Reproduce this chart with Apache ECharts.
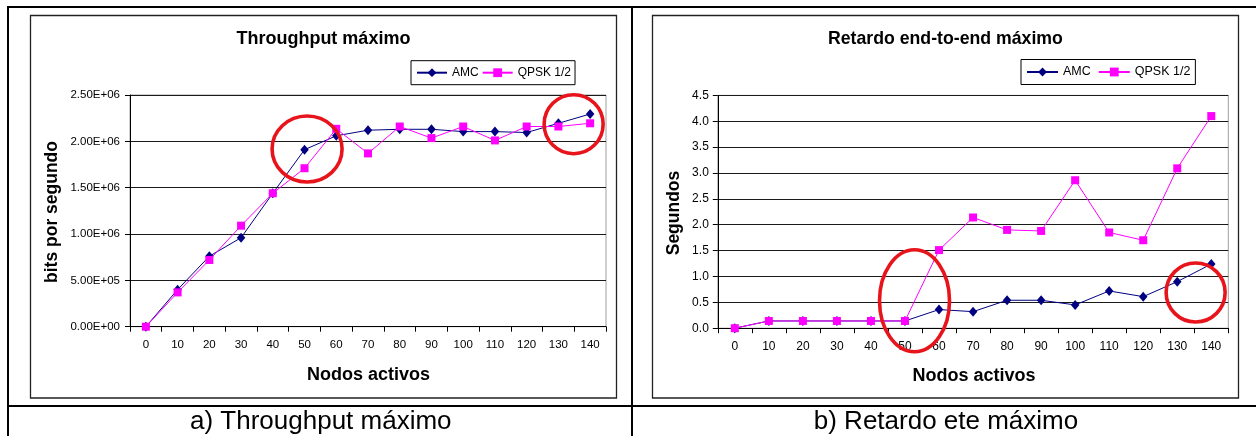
<!DOCTYPE html>
<html>
<head>
<meta charset="utf-8">
<script src="https://cdn.jsdelivr.net/npm/echarts@6/dist/echarts.min.js"></script>
<style>
html,body{margin:0;padding:0;background:#fff;}
#c{width:1256px;height:436px;}
</style>
</head>
<body>
<div id="c"></div>
<script>
// ---- data ----
const categories = ['0','10','20','30','40','50','60','70','80','90','100','110','120','130','140'];
const throughputAMC  = [0, 4.0e5, 7.6e5, 9.6e5, 1.44e6, 1.91e6, 2.06e6, 2.12e6, 2.13e6, 2.13e6, 2.105e6, 2.105e6, 2.095e6, 2.195e6, 2.295e6];
const throughputQPSK = [0, 3.7e5, 7.2e5, 1.09e6, 1.44e6, 1.71e6, 2.135e6, 1.87e6, 2.16e6, 2.035e6, 2.16e6, 2.01e6, 2.16e6, 2.16e6, 2.195e6];
const delayAMC  = [0, 0.14, 0.14, 0.14, 0.14, 0.14, 0.36, 0.32, 0.54, 0.54, 0.45, 0.72, 0.61, 0.90, 1.24];
const delayQPSK = [0, 0.14, 0.14, 0.14, 0.14, 0.14, 1.51, 2.14, 1.90, 1.88, 2.86, 1.85, 1.70, 3.09, 4.10];
const seriesNames = ['AMC', 'QPSK 1/2'];
const titles = ['Throughput máximo', 'Retardo end-to-end máximo'];
const captions = ['a) Throughput máximo', 'b) Retardo ete máximo'];
const yNames = ['bits por segundo', 'Segundos'];
const xName = 'Nodos activos';
// annotation ellipses: [grid, category index (fractional), value]
const annotationCenters = [[0, 5.08, 1.917e6], [0, 13.48, 2.185e6], [1, 5.28, 0.53], [1, 13.54, 0.69]];

// ---- styling ----
const FONT = "'Liberation Sans', Arial, Helvetica, sans-serif";
const NAVY = '#000080';
const MAGENTA = '#ff00ff';
const RED = '#e8141c';
const ellipseRadii = [[35, 33], [29.5, 29.5], [35, 51], [29.5, 29.5]];

function sciLabel(v) {
  const parts = Number(v).toExponential(2).split('e');
  const sign = parts[1][0];
  const digits = parts[1].slice(1).padStart(2, '0');
  return parts[0] + 'E' + sign + digits;
}

const chart = echarts.init(document.getElementById('c'), null, {renderer: 'canvas'});

function xAxisCfg(gridIndex, fs) {
  return {
    type: 'category', gridIndex: gridIndex, data: categories, boundaryGap: true,
    axisLine: {show: true, lineStyle: {color: '#000', width: 1}},
    axisTick: {show: true, length: 5, lineStyle: {color: '#000'}},
    axisLabel: {margin: 12, color: '#000', fontFamily: FONT, fontSize: fs, interval: 0},
    splitLine: {show: false}
  };
}
function yAxisCfg(gridIndex, max, interval, fmt, fs, margin) {
  return {
    type: 'value', gridIndex: gridIndex, min: 0, max: max, interval: interval,
    axisLine: {show: true, lineStyle: {color: '#000', width: 1}},
    axisTick: {show: true, length: 5, lineStyle: {color: '#000'}},
    axisLabel: {margin: margin, color: '#000', fontFamily: FONT, fontSize: fs, formatter: fmt},
    splitLine: {show: true, lineStyle: {color: '#1a1a1a', width: 1}}
  };
}
function lineSeries(name, gi, data, isAMC) {
  const c = isAMC ? NAVY : MAGENTA;
  return {
    type: 'line', name: name, xAxisIndex: gi, yAxisIndex: gi, data: data,
    symbol: isAMC ? 'diamond' : 'rect', symbolSize: isAMC ? [8.5, 10] : 8,
    lineStyle: {color: c, width: 1}, itemStyle: {color: c}, color: c,
    z: isAMC ? 2 : 3, animation: false
  };
}
function legendCfg(left, top, padding, gap, fs, iw) {
  return {
    left: left, top: top, orient: 'horizontal', data: seriesNames,
    borderColor: '#000', borderWidth: 1, backgroundColor: '#fff',
    padding: padding, itemWidth: iw, itemHeight: 11, itemGap: gap,
    textStyle: {fontFamily: FONT, fontSize: fs, color: '#000'},
    selectedMode: false
  };
}

chart.setOption({
  backgroundColor: '#fff',
  animation: false,
  grid: [
    {left: 130, top: 95, width: 476, height: 231.7, show: true, borderColor: '#a0a0a0', borderWidth: 1, backgroundColor: 'transparent'},
    {left: 717.8, top: 95.4, width: 510.5, height: 232.8, show: true, borderColor: '#a0a0a0', borderWidth: 1, backgroundColor: 'transparent'}
  ],
  xAxis: [xAxisCfg(0, 11.5), xAxisCfg(1, 12)],
  yAxis: [
    yAxisCfg(0, 2.5e6, 5e5, sciLabel, 11.5, 10),
    yAxisCfg(1, 4.5, 0.5, function (v) { return Number(v).toFixed(1); }, 12, 9)
  ],
  legend: [
    legendCfg(411, 60.7, [6, 4, 6, 5], 3, 12, 30),
    legendCfg(1021, 59.5, [6, 5, 6, 5], 7, 12.5, 31)
  ],
  series: [
    lineSeries(seriesNames[0], 0, throughputAMC, true),
    lineSeries(seriesNames[1], 0, throughputQPSK, false),
    lineSeries(seriesNames[0], 1, delayAMC, true),
    lineSeries(seriesNames[1], 1, delayQPSK, false)
  ]
});

// ---- decorations: table frame, chart frames, texts, annotation ellipses ----
const g = [];
function line(x1, y1, x2, y2, w, c) {
  g.push({type: 'line', silent: true, z: 50, shape: {x1: x1, y1: y1, x2: x2, y2: y2}, style: {stroke: c || '#000', lineWidth: w}});
}
function text(t, x, y, fs, bold, rot) {
  g.push({type: 'text', silent: true, z: 60, x: x, y: y, rotation: rot || 0,
    style: {text: t, fontFamily: FONT, fontSize: fs, fontWeight: bold ? 'bold' : 'normal', fill: '#000', align: 'center', verticalAlign: 'middle'}});
}
// table
line(7, 7, 1256, 7, 2);
line(8, 6, 8, 436, 2);
line(632, 7, 632, 436, 2);
line(8, 406, 1256, 406, 2);
// chart area frames
g.push({type: 'rect', silent: true, z: 40, shape: {x: 30.5, y: 15.5, width: 586, height: 382.5}, style: {fill: 'none', stroke: '#222', lineWidth: 1.3}});
g.push({type: 'rect', silent: true, z: 40, shape: {x: 652.5, y: 15.5, width: 586, height: 382.5}, style: {fill: 'none', stroke: '#222', lineWidth: 1.3}});
// titles
text(titles[0], 323.4, 39.5, 18, true);
text(titles[1], 945.4, 39.5, 17.7, true);
// axis names
text(yNames[0], 52.5, 212, 17.5, true, Math.PI / 2);
text(yNames[1], 674, 213, 17.5, true, Math.PI / 2);
text(xName, 368.5, 375.5, 18, true);
text(xName, 974, 376.5, 18, true);
// captions
text(captions[0], 320.8, 422, 26, false);
text(captions[1], 946, 422, 26, false);

// ellipses anchored to data coordinates
annotationCenters.forEach(function (a, i) {
  const gi = a[0];
  const finder = {xAxisIndex: gi, yAxisIndex: gi};
  const p0 = chart.convertToPixel(finder, [0, a[2]]);
  const p1 = chart.convertToPixel(finder, [1, a[2]]);
  const step = p1[0] - p0[0];
  const cx = p0[0] + a[1] * step;
  const cy = p0[1];
  g.push({type: 'ellipse', silent: true, z: 70,
    shape: {cx: cx, cy: cy, rx: ellipseRadii[i][0], ry: ellipseRadii[i][1]},
    style: {fill: 'none', stroke: RED, lineWidth: 3.6}});
});

chart.setOption({graphic: g});
</script>
</body>
</html>
